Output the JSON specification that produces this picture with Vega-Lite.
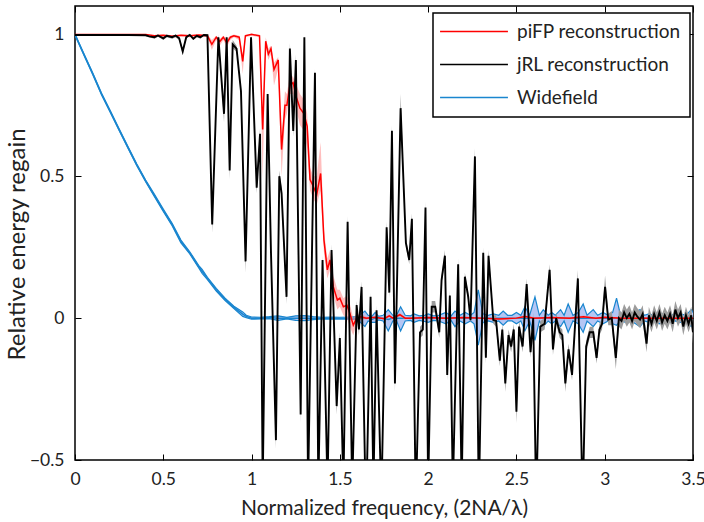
{
"$schema": "https://vega.github.io/schema/vega-lite/v6.json",
"width": 618, "height": 454,
"autosize": {"type": "none"},
"padding": {"left": 75, "top": 6, "right": 11, "bottom": 62},
"background": "white",
"config": {
  "view": {"stroke": "black", "strokeWidth": 1.5},
  "font": "Lato",
  "legend": {"strokeWidth": 1.5, "strokeColor": "black", "fillColor": "white"},
  "axis": {"domain": false, "grid": false, "tickColor": "black", "tickWidth": 1, "tickSize": -6, "labelFontSize": 17.5, "labelColor": "#222", "titleFontSize": 21, "titleFontWeight": "normal", "titleColor": "#222", "labelFlush": false, "labelOverlap": false}
},
"resolve": {"axis": {"x": "independent", "y": "independent"}},
"datasets": {
"wf": [
{"x":0,"y":1,"lo":0.997,"hi":1},{"x":0.05,"y":0.93,"lo":0.927,"hi":0.933},{"x":0.1,"y":0.862,"lo":0.859,"hi":0.865},{"x":0.15,"y":0.79,"lo":0.787,"hi":0.793},{"x":0.2,"y":0.728,"lo":0.725,"hi":0.731},{"x":0.25,"y":0.664,"lo":0.661,"hi":0.667},{"x":0.3,"y":0.602,"lo":0.599,"hi":0.605},{"x":0.35,"y":0.54,"lo":0.537,"hi":0.543},{"x":0.4,"y":0.484,"lo":0.481,"hi":0.487},{"x":0.45,"y":0.432,"lo":0.428,"hi":0.436},{"x":0.5,"y":0.38,"lo":0.376,"hi":0.384},{"x":0.55,"y":0.33,"lo":0.326,"hi":0.334},{"x":0.6,"y":0.27,"lo":0.265,"hi":0.275},{"x":0.65,"y":0.23,"lo":0.226,"hi":0.234},{"x":0.7,"y":0.182,"lo":0.178,"hi":0.186},{"x":0.72,"y":0.165,"lo":0.158,"hi":0.172},{"x":0.75,"y":0.14,"lo":0.136,"hi":0.144},{"x":0.8,"y":0.1,"lo":0.095,"hi":0.105},{"x":0.85,"y":0.066,"lo":0.062,"hi":0.07},{"x":0.9,"y":0.038,"lo":0.034,"hi":0.042},{"x":0.95,"y":0.014,"lo":0.006,"hi":0.022},{"x":0.97,"y":0.006,"lo":0.002,"hi":0.01},{"x":1,"y":0,"lo":-0.004,"hi":0.004},
{"x":1.05,"y":0,"lo":-0.003,"hi":0.003},{"x":1.1,"y":0.002,"lo":-0.002,"hi":0.005},{"x":1.15,"y":0,"lo":-0.008,"hi":0.008},{"x":1.2,"y":0,"lo":-0.003,"hi":0.003},{"x":1.25,"y":0,"lo":-0.008,"hi":0.008},{"x":1.3,"y":0,"lo":-0.009,"hi":0.009},{"x":1.35,"y":0,"lo":-0.005,"hi":0.005},{"x":1.4,"y":0,"lo":-0.003,"hi":0.003},{"x":1.45,"y":0,"lo":-0.004,"hi":0.004},{"x":1.5,"y":0,"lo":-0.003,"hi":0.003},{"x":1.55,"y":0,"lo":-0.004,"hi":0.004},{"x":1.6,"y":0,"lo":-0.005,"hi":0.005},
{"x":1.642,"y":0,"lo":-0.03,"hi":0.025},{"x":1.66,"y":0,"lo":-0.01,"hi":0.01},{"x":1.68,"y":-0.005,"lo":-0.015,"hi":0.005},{"x":1.7,"y":0,"lo":-0.015,"hi":0.02},{"x":1.72,"y":0,"lo":-0.006,"hi":0.006},{"x":1.745,"y":0,"lo":-0.01,"hi":0.01},{"x":1.774,"y":-0.005,"lo":-0.045,"hi":0.03},{"x":1.8,"y":0,"lo":-0.01,"hi":0.01},{"x":1.82,"y":0,"lo":-0.008,"hi":0.008},{"x":1.844,"y":0,"lo":-0.045,"hi":0.04},{"x":1.87,"y":0,"lo":-0.01,"hi":0.01},{"x":1.9,"y":0,"lo":-0.008,"hi":0.008},{"x":1.92,"y":0,"lo":-0.015,"hi":0.015},{"x":1.95,"y":0,"lo":-0.008,"hi":0.008},{"x":1.98,"y":0,"lo":-0.012,"hi":0.01},{"x":2,"y":0,"lo":-0.015,"hi":0.015},{"x":2.03,"y":0,"lo":-0.008,"hi":0.008},{"x":2.06,"y":0,"lo":-0.01,"hi":0.01},{"x":2.1,"y":0,"lo":-0.02,"hi":0.02},{"x":2.13,"y":0,"lo":-0.008,"hi":0.008},{"x":2.152,"y":0,"lo":-0.03,"hi":0.025},{"x":2.18,"y":0,"lo":-0.01,"hi":0.01},{"x":2.21,"y":0,"lo":-0.02,"hi":0.02},{"x":2.24,"y":0,"lo":-0.01,"hi":0.01},{"x":2.26,"y":0,"lo":-0.02,"hi":0.02},{"x":2.284,"y":0,"lo":-0.095,"hi":0.1},{"x":2.31,"y":0,"lo":-0.015,"hi":0.015},{"x":2.34,"y":0,"lo":-0.01,"hi":0.01},{"x":2.37,"y":0,"lo":-0.015,"hi":0.015},{"x":2.4,"y":0,"lo":-0.01,"hi":0.01},{"x":2.425,"y":0,"lo":-0.025,"hi":0.025},{"x":2.45,"y":0,"lo":-0.01,"hi":0.01},{"x":2.475,"y":0,"lo":-0.01,"hi":0.01},{"x":2.5,"y":0,"lo":-0.02,"hi":0.02},{"x":2.525,"y":0,"lo":-0.01,"hi":0.01},{"x":2.548,"y":0,"lo":-0.045,"hi":0.04},{"x":2.575,"y":0,"lo":-0.01,"hi":0.01},{"x":2.605,"y":0,"lo":-0.078,"hi":0.075},{"x":2.63,"y":0,"lo":-0.01,"hi":0.01},{"x":2.652,"y":0,"lo":-0.03,"hi":0.03},{"x":2.68,"y":0,"lo":-0.01,"hi":0.01},{"x":2.7,"y":0,"lo":-0.02,"hi":0.02},{"x":2.72,"y":0,"lo":-0.01,"hi":0.01},{"x":2.75,"y":0,"lo":-0.03,"hi":0.03},{"x":2.77,"y":0,"lo":-0.01,"hi":0.01},{"x":2.793,"y":0,"lo":-0.05,"hi":0.05},{"x":2.82,"y":0,"lo":-0.01,"hi":0.01},{"x":2.85,"y":0,"lo":-0.02,"hi":0.02},{"x":2.878,"y":0,"lo":-0.05,"hi":0.05},{"x":2.9,"y":0,"lo":-0.01,"hi":0.01},{"x":2.935,"y":0,"lo":-0.03,"hi":0.03},{"x":2.96,"y":0,"lo":-0.01,"hi":0.01},{"x":2.99,"y":0,"lo":-0.02,"hi":0.02},{"x":3.02,"y":0,"lo":-0.01,"hi":0.01},{"x":3.045,"y":0,"lo":-0.02,"hi":0.02},{"x":3.067,"y":0,"lo":-0.025,"hi":0.07},{"x":3.09,"y":0,"lo":-0.01,"hi":0.01},{"x":3.12,"y":0,"lo":-0.015,"hi":0.015},{"x":3.15,"y":0,"lo":-0.01,"hi":0.01},{"x":3.175,"y":0,"lo":-0.02,"hi":0.02},{"x":3.2,"y":0,"lo":-0.03,"hi":0.03},{"x":3.225,"y":0,"lo":-0.01,"hi":0.01},{"x":3.25,"y":0,"lo":-0.015,"hi":0.015},{"x":3.28,"y":0,"lo":-0.01,"hi":0.01},{"x":3.31,"y":0,"lo":-0.02,"hi":0.02},{"x":3.34,"y":0,"lo":-0.01,"hi":0.01},{"x":3.37,"y":0,"lo":-0.015,"hi":0.015},{"x":3.4,"y":0,"lo":-0.01,"hi":0.01},{"x":3.43,"y":0,"lo":-0.015,"hi":0.015},{"x":3.46,"y":0,"lo":-0.01,"hi":0.01},{"x":3.49,"y":0,"lo":-0.03,"hi":0.03},{"x":3.5,"y":0,"lo":-0.02,"hi":0.02}
],
"pi": [
{"x":0,"y":1,"lo":1,"hi":1},{"x":0.4,"y":1,"lo":0.998,"hi":1},{"x":0.45,"y":0.995,"lo":0.99,"hi":0.998},{"x":0.5,"y":0.997,"lo":0.993,"hi":1},{"x":0.55,"y":0.993,"lo":0.988,"hi":0.997},{"x":0.6,"y":0.997,"lo":0.993,"hi":1},{"x":0.65,"y":0.995,"lo":0.99,"hi":0.998},{"x":0.7,"y":0.998,"lo":0.995,"hi":1},{"x":0.75,"y":0.995,"lo":0.99,"hi":1},{"x":0.775,"y":0.965,"lo":0.945,"hi":0.98},{"x":0.8,"y":0.99,"lo":0.98,"hi":0.995},{"x":0.82,"y":0.975,"lo":0.96,"hi":0.985},{"x":0.84,"y":0.99,"lo":0.98,"hi":0.995},{"x":0.86,"y":0.97,"lo":0.955,"hi":0.985},{"x":0.88,"y":0.99,"lo":0.98,"hi":0.995},{"x":0.9,"y":0.995,"lo":0.99,"hi":1},{"x":0.93,"y":0.99,"lo":0.98,"hi":0.995},{"x":0.95,"y":0.905,"lo":0.86,"hi":0.93},{"x":0.965,"y":0.995,"lo":0.99,"hi":1},{"x":1,"y":1,"lo":0.995,"hi":1},{"x":1.045,"y":0.995,"lo":0.99,"hi":1},
{"x":1.063,"y":0.665,"lo":0.49,"hi":0.72},{"x":1.08,"y":0.976,"lo":0.96,"hi":0.99},{"x":1.095,"y":0.93,"lo":0.91,"hi":0.95},{"x":1.11,"y":0.95,"lo":0.93,"hi":0.96},{"x":1.127,"y":0.876,"lo":0.82,"hi":0.9},{"x":1.151,"y":0.91,"lo":0.88,"hi":0.92},{"x":1.17,"y":0.594,"lo":0.5,"hi":0.64},{"x":1.189,"y":0.75,"lo":0.7,"hi":0.8},{"x":1.2,"y":0.75,"lo":0.72,"hi":0.79},{"x":1.217,"y":0.82,"lo":0.79,"hi":0.86},{"x":1.235,"y":0.83,"lo":0.79,"hi":0.85},{"x":1.255,"y":0.776,"lo":0.73,"hi":0.82},{"x":1.274,"y":0.74,"lo":0.68,"hi":0.79},{"x":1.297,"y":0.72,"lo":0.66,"hi":0.77},{"x":1.315,"y":0.676,"lo":0.6,"hi":0.72},{"x":1.331,"y":0.488,"lo":0.45,"hi":0.53},{"x":1.35,"y":0.464,"lo":0.42,"hi":0.5},{"x":1.369,"y":0.435,"lo":0.4,"hi":0.5},{"x":1.391,"y":0.51,"lo":0.45,"hi":0.62},{"x":1.41,"y":0.275,"lo":0.23,"hi":0.31},{"x":1.429,"y":0.17,"lo":0.14,"hi":0.21},{"x":1.444,"y":0.205,"lo":0.17,"hi":0.24},{"x":1.463,"y":0.11,"lo":0.08,"hi":0.15},{"x":1.486,"y":0.064,"lo":0.03,"hi":0.1},{"x":1.5,"y":0.07,"lo":0.04,"hi":0.1},{"x":1.52,"y":0.04,"lo":0.01,"hi":0.07},{"x":1.54,"y":0.045,"lo":0,"hi":0.08},{"x":1.557,"y":0.016,"lo":-0.03,"hi":0.05},{"x":1.576,"y":-0.025,"lo":-0.06,"hi":0},{"x":1.595,"y":0,"lo":-0.02,"hi":0.015},{"x":1.62,"y":0.005,"lo":-0.005,"hi":0.015},
{"x":1.65,"y":0,"lo":-0.005,"hi":0.005},{"x":1.7,"y":0.003,"lo":0,"hi":0.006},{"x":1.75,"y":-0.002,"lo":-0.005,"hi":0.002},{"x":1.78,"y":0.008,"lo":0.002,"hi":0.014},{"x":1.8,"y":0,"lo":-0.004,"hi":0.004},{"x":1.84,"y":0.012,"lo":0.006,"hi":0.018},{"x":1.87,"y":0,"lo":-0.004,"hi":0.004},{"x":1.9,"y":0,"lo":-0.003,"hi":0.003},{"x":2,"y":0.002,"lo":-0.002,"hi":0.005},{"x":2.1,"y":0,"lo":-0.003,"hi":0.003},{"x":2.2,"y":0.002,"lo":-0.002,"hi":0.005},{"x":2.3,"y":0,"lo":-0.003,"hi":0.003},{"x":2.4,"y":-0.003,"lo":-0.006,"hi":0},{"x":2.5,"y":0,"lo":-0.003,"hi":0.003},{"x":2.55,"y":0.006,"lo":0.002,"hi":0.01},{"x":2.6,"y":0,"lo":-0.003,"hi":0.003},{"x":2.7,"y":0.002,"lo":-0.002,"hi":0.005},{"x":2.8,"y":0,"lo":-0.003,"hi":0.003},{"x":2.88,"y":0.005,"lo":0.001,"hi":0.009},{"x":2.95,"y":0,"lo":-0.003,"hi":0.003},{"x":3,"y":0.003,"lo":0,"hi":0.006},{"x":3.1,"y":0,"lo":-0.003,"hi":0.003},{"x":3.2,"y":0,"lo":-0.003,"hi":0.003},{"x":3.3,"y":0,"lo":-0.003,"hi":0.003},{"x":3.4,"y":0,"lo":-0.003,"hi":0.003},{"x":3.5,"y":0,"lo":-0.003,"hi":0.003}
],
"jrl": [
{"x":0,"y":0.998,"lo":0.996,"hi":1},{"x":0.1,"y":0.998,"lo":0.996,"hi":1},{"x":0.2,"y":0.998,"lo":0.996,"hi":1},{"x":0.3,"y":0.998,"lo":0.996,"hi":1},{"x":0.4,"y":0.997,"lo":0.994,"hi":1},{"x":0.42,"y":0.993,"lo":0.99,"hi":0.997},{"x":0.45,"y":0.99,"lo":0.985,"hi":0.995},{"x":0.47,"y":0.996,"lo":0.992,"hi":1},{"x":0.5,"y":0.986,"lo":0.98,"hi":0.992},{"x":0.52,"y":0.995,"lo":0.99,"hi":1},{"x":0.55,"y":0.99,"lo":0.985,"hi":0.995},{"x":0.57,"y":0.996,"lo":0.99,"hi":1},{"x":0.59,"y":0.986,"lo":0.98,"hi":0.992},{"x":0.61,"y":0.94,"lo":0.93,"hi":0.95},{"x":0.63,"y":0.99,"lo":0.985,"hi":0.995},{"x":0.65,"y":0.998,"lo":0.995,"hi":1},{"x":0.67,"y":0.985,"lo":0.98,"hi":0.99},{"x":0.69,"y":0.995,"lo":0.99,"hi":1},{"x":0.71,"y":0.99,"lo":0.985,"hi":0.995},{"x":0.73,"y":0.998,"lo":0.995,"hi":1},{"x":0.75,"y":0.997,"lo":0.99,"hi":1},
{"x":0.777,"y":0.33,"lo":0.3,"hi":0.36},{"x":0.812,"y":0.99,"lo":0.98,"hi":1},{"x":0.844,"y":0.72,"lo":0.69,"hi":0.74},{"x":0.859,"y":0.99,"lo":0.98,"hi":1},{"x":0.876,"y":0.52,"lo":0.49,"hi":0.54},{"x":0.893,"y":0.965,"lo":0.95,"hi":0.98},{"x":0.915,"y":0.95,"lo":0.94,"hi":0.96},{"x":0.94,"y":0.8,"lo":0.79,"hi":0.81},{"x":0.966,"y":0.2,"lo":0.16,"hi":0.22},{"x":0.997,"y":0.99,"lo":0.98,"hi":1},{"x":1.029,"y":0.46,"lo":0.44,"hi":0.48},{"x":1.048,"y":0.65,"lo":0.63,"hi":0.67},{"x":1.063,"y":-0.6,"lo":-0.62,"hi":-0.58},{"x":1.091,"y":0.79,"lo":0.77,"hi":0.8},{"x":1.11,"y":0.23,"lo":0.21,"hi":0.25},{"x":1.138,"y":-0.43,"lo":-0.46,"hi":-0.41},{"x":1.157,"y":0.5,"lo":0.48,"hi":0.52},{"x":1.17,"y":0.44,"lo":0.42,"hi":0.46},{"x":1.198,"y":0.075,"lo":0.05,"hi":0.09},{"x":1.217,"y":0.95,"lo":0.94,"hi":0.97},{"x":1.236,"y":0.66,"lo":0.64,"hi":0.68},{"x":1.251,"y":0.91,"lo":0.9,"hi":0.93},{"x":1.278,"y":-0.34,"lo":-0.37,"hi":-0.32},{"x":1.299,"y":0.99,"lo":0.98,"hi":1},{"x":1.32,"y":-0.6,"lo":-0.62,"hi":-0.58},{"x":1.359,"y":0.865,"lo":0.85,"hi":0.88},{"x":1.378,"y":-0.6,"lo":-0.62,"hi":-0.58},{"x":1.402,"y":0.205,"lo":0.19,"hi":0.22},{"x":1.43,"y":-0.6,"lo":-0.62,"hi":-0.58},{"x":1.453,"y":0.24,"lo":0.22,"hi":0.26},{"x":1.482,"y":-0.31,"lo":-0.34,"hi":-0.29},{"x":1.5,"y":-0.07,"lo":-0.09,"hi":-0.05},{"x":1.52,"y":-0.6,"lo":-0.62,"hi":-0.58},{"x":1.544,"y":0.34,"lo":0.32,"hi":0.36},{"x":1.57,"y":-0.6,"lo":-0.62,"hi":-0.58},{"x":1.595,"y":0.046,"lo":0.03,"hi":0.06},{"x":1.608,"y":-0.04,"lo":-0.06,"hi":-0.02},{"x":1.623,"y":0.11,"lo":0.09,"hi":0.13},{"x":1.648,"y":-0.7,"lo":-0.72,"hi":-0.68},{"x":1.674,"y":0.075,"lo":0.06,"hi":0.09},{"x":1.69,"y":-0.6,"lo":-0.62,"hi":-0.58},{"x":1.708,"y":0.028,"lo":0.01,"hi":0.045},{"x":1.735,"y":-0.65,"lo":-0.67,"hi":-0.63},{"x":1.765,"y":0.32,"lo":0.3,"hi":0.34},{"x":1.78,"y":0.09,"lo":0.07,"hi":0.11},{"x":1.795,"y":0.66,"lo":0.64,"hi":0.68},{"x":1.812,"y":-0.23,"lo":-0.26,"hi":-0.21},{"x":1.844,"y":0.74,"lo":0.72,"hi":0.79},{"x":1.874,"y":0.265,"lo":0.25,"hi":0.28},{"x":1.893,"y":0.205,"lo":0.19,"hi":0.22},{"x":1.908,"y":0.35,"lo":0.33,"hi":0.37},{"x":1.93,"y":-0.65,"lo":-0.67,"hi":-0.63},{"x":1.954,"y":-0.05,"lo":-0.07,"hi":-0.03},{"x":1.97,"y":-0.04,"lo":-0.06,"hi":-0.02},{"x":1.985,"y":0.39,"lo":0.37,"hi":0.41},{"x":2,"y":-0.6,"lo":-0.62,"hi":-0.58},{"x":2.02,"y":0.04,"lo":0.02,"hi":0.06},{"x":2.04,"y":0.04,"lo":0.02,"hi":0.06},{"x":2.063,"y":-0.05,"lo":-0.07,"hi":-0.03},{"x":2.076,"y":0.134,"lo":0.12,"hi":0.15},{"x":2.095,"y":0.22,"lo":0.2,"hi":0.24},{"x":2.108,"y":-0.2,"lo":-0.22,"hi":-0.18},{"x":2.123,"y":0.08,"lo":0.06,"hi":0.1},{"x":2.14,"y":-0.6,"lo":-0.62,"hi":-0.58},{"x":2.17,"y":0.19,"lo":0.17,"hi":0.21},{"x":2.19,"y":-0.6,"lo":-0.62,"hi":-0.58},{"x":2.208,"y":0.146,"lo":0.13,"hi":0.16},{"x":2.227,"y":0.075,"lo":0.06,"hi":0.09},{"x":2.24,"y":-0.007,"lo":-0.02,"hi":0.01},{"x":2.265,"y":0.57,"lo":0.55,"hi":0.6},{"x":2.287,"y":-0.65,"lo":-0.67,"hi":-0.63},{"x":2.312,"y":0.23,"lo":0.21,"hi":0.25},{"x":2.327,"y":-0.14,"lo":-0.16,"hi":-0.12},{"x":2.342,"y":0.22,"lo":0.2,"hi":0.24},{"x":2.369,"y":-0.007,"lo":-0.02,"hi":0.01},{"x":2.385,"y":-0.01,"lo":-0.03,"hi":0.01},{"x":2.406,"y":-0.15,"lo":-0.17,"hi":-0.13},{"x":2.42,"y":-0.04,"lo":-0.06,"hi":-0.02},{"x":2.437,"y":-0.23,"lo":-0.26,"hi":-0.21},{"x":2.455,"y":-0.06,"lo":-0.08,"hi":-0.04},{"x":2.47,"y":-0.1,"lo":-0.12,"hi":-0.08},{"x":2.485,"y":-0.04,"lo":-0.06,"hi":-0.02},{"x":2.5,"y":-0.33,"lo":-0.37,"hi":-0.31},{"x":2.515,"y":-0.03,"lo":-0.05,"hi":-0.01},{"x":2.535,"y":-0.1,"lo":-0.12,"hi":-0.08},{"x":2.558,"y":0.12,"lo":0.1,"hi":0.14},{"x":2.58,"y":-0.12,"lo":-0.14,"hi":-0.1},{"x":2.595,"y":0,"lo":-0.02,"hi":0.02},{"x":2.612,"y":-0.65,"lo":-0.67,"hi":-0.63},{"x":2.635,"y":-0.03,"lo":-0.05,"hi":-0.01},{"x":2.66,"y":-0.02,"lo":-0.04,"hi":0},{"x":2.688,"y":0.17,"lo":0.15,"hi":0.19},{"x":2.707,"y":-0.11,"lo":-0.13,"hi":-0.09},{"x":2.725,"y":0,"lo":-0.02,"hi":0.02},{"x":2.745,"y":-0.05,"lo":-0.07,"hi":-0.03},{"x":2.76,"y":-0.06,"lo":-0.08,"hi":-0.04},{"x":2.777,"y":-0.23,"lo":-0.26,"hi":-0.21},{"x":2.795,"y":-0.11,"lo":-0.13,"hi":-0.09},{"x":2.815,"y":-0.2,"lo":-0.22,"hi":-0.18},{"x":2.848,"y":0.14,"lo":0.12,"hi":0.17},{"x":2.875,"y":-0.65,"lo":-0.67,"hi":-0.63},{"x":2.895,"y":-0.1,"lo":-0.12,"hi":-0.08},{"x":2.915,"y":-0.05,"lo":-0.07,"hi":-0.03},{"x":2.935,"y":-0.05,"lo":-0.07,"hi":-0.03},{"x":2.954,"y":-0.14,"lo":-0.16,"hi":-0.12},{"x":2.97,"y":-0.04,"lo":-0.06,"hi":-0.02},{"x":2.985,"y":-0.02,"lo":-0.04,"hi":0},{"x":3.002,"y":0.11,"lo":0.09,"hi":0.15},{"x":3.02,"y":-0.005,"lo":-0.025,"hi":0.015},{"x":3.04,"y":0,"lo":-0.025,"hi":0.025},{"x":3.063,"y":-0.14,"lo":-0.18,"hi":-0.12},{"x":3.08,"y":0,"lo":-0.03,"hi":0.03},{"x":3.095,"y":-0.01,"lo":-0.04,"hi":0.02},{"x":3.11,"y":0.02,"lo":-0.01,"hi":0.05},{"x":3.125,"y":0,"lo":-0.03,"hi":0.03},{"x":3.14,"y":0.015,"lo":-0.015,"hi":0.045},{"x":3.155,"y":-0.01,"lo":-0.04,"hi":0.02},{"x":3.17,"y":0.02,"lo":-0.01,"hi":0.05},{"x":3.185,"y":0.005,"lo":-0.025,"hi":0.035},{"x":3.2,"y":-0.005,"lo":-0.035,"hi":0.025},{"x":3.215,"y":0.015,"lo":-0.015,"hi":0.045},{"x":3.237,"y":-0.09,"lo":-0.12,"hi":-0.06},{"x":3.25,"y":0.01,"lo":-0.02,"hi":0.04},{"x":3.265,"y":-0.02,"lo":-0.05,"hi":0.01},{"x":3.28,"y":0.015,"lo":-0.015,"hi":0.045},{"x":3.295,"y":-0.01,"lo":-0.04,"hi":0.02},{"x":3.31,"y":0.02,"lo":-0.01,"hi":0.05},{"x":3.325,"y":-0.015,"lo":-0.045,"hi":0.015},{"x":3.34,"y":0.01,"lo":-0.02,"hi":0.04},{"x":3.355,"y":-0.01,"lo":-0.04,"hi":0.02},{"x":3.37,"y":0.015,"lo":-0.015,"hi":0.045},{"x":3.385,"y":-0.02,"lo":-0.05,"hi":0.01},{"x":3.4,"y":0.03,"lo":0,"hi":0.06},{"x":3.415,"y":0,"lo":-0.03,"hi":0.03},{"x":3.43,"y":0.02,"lo":-0.01,"hi":0.05},{"x":3.445,"y":-0.03,"lo":-0.06,"hi":0},{"x":3.46,"y":0.01,"lo":-0.02,"hi":0.04},{"x":3.475,"y":-0.02,"lo":-0.05,"hi":0.01},{"x":3.49,"y":0.01,"lo":-0.02,"hi":0.04},{"x":3.5,"y":-0.05,"lo":-0.09,"hi":-0.02}
]
},
"layer": [
{"data": {"name": "wf"}, "mark": {"type": "area", "color": "#b4c6f4", "clip": true},
 "encoding": {
  "x": {"field": "x", "type": "quantitative", "scale": {"domain": [0, 3.5], "nice": false, "zero": false},
        "axis": {"orient": "bottom", "values": [0, 0.5, 1, 1.5, 2, 2.5, 3, 3.5], "format": "~g", "title": "Normalized frequency, (2NA/λ)", "labelPadding": 16, "titlePadding": 10}},
  "y": {"field": "lo", "type": "quantitative", "scale": {"domain": [-0.5, 1.1], "nice": false, "zero": false},
        "axis": {"orient": "left", "values": [-0.5, 0, 0.5, 1], "format": "~g", "title": "Relative energy regain", "titleFontSize": 24, "labelPadding": 17, "titleX": -58, "titleY": 238, "titleAngle": 270, "titleAlign": "center", "titleBaseline": "middle"}},
  "y2": {"field": "hi"}}},
{"data": {"name": "wf"}, "mark": {"type": "line", "color": "#1a86cf", "strokeWidth": 1.2, "clip": true},
 "encoding": {"x": {"field": "x", "type": "quantitative", "axis": null}, "y": {"field": "lo", "type": "quantitative", "axis": null}}},
{"data": {"name": "wf"}, "mark": {"type": "line", "color": "#1a86cf", "strokeWidth": 1.2, "clip": true},
 "encoding": {"x": {"field": "x", "type": "quantitative", "axis": null}, "y": {"field": "hi", "type": "quantitative", "axis": null}}},
{"data": {"name": "wf"}, "mark": {"type": "line", "strokeWidth": 1.5, "clip": true},
 "encoding": {"x": {"field": "x", "type": "quantitative", "axis": null}, "y": {"field": "y", "type": "quantitative", "axis": null},
  "color": {"datum": "Widefield", "type": "nominal",
   "scale": {"domain": ["piFP reconstruction", "jRL reconstruction", "Widefield"], "range": ["#ff0000", "#000000", "#1a86cf"]},
   "legend": {"orient": "none", "legendX": 358, "legendY": 7, "title": null, "direction": "vertical", "symbolType": "M-6,0H6", "symbolSize": 128, "symbolOffset": 22.5, "symbolStrokeWidth": 1.5, "labelFontSize": 19, "labelFont": "Lato", "labelColor": "#222", "padding": 9, "rowPadding": 13, "labelOffset": 33.5, "labelLimit": 300}}}},
{"data": {"name": "pi"}, "mark": {"type": "area", "color": "#ff8888", "opacity": 0.55, "clip": true},
 "encoding": {"x": {"field": "x", "type": "quantitative", "axis": null}, "y": {"field": "lo", "type": "quantitative", "axis": null}, "y2": {"field": "hi"}}},
{"data": {"name": "jrl"}, "mark": {"type": "area", "color": "#9c9c9c", "clip": true},
 "encoding": {"x": {"field": "x", "type": "quantitative", "axis": null}, "y": {"field": "lo", "type": "quantitative", "axis": null}, "y2": {"field": "hi"}}},
{"data": {"name": "pi"}, "mark": {"type": "line", "strokeWidth": 1.5, "clip": true},
 "encoding": {"x": {"field": "x", "type": "quantitative", "axis": null}, "y": {"field": "y", "type": "quantitative", "axis": null}, "color": {"datum": "piFP reconstruction", "type": "nominal"}}},
{"data": {"name": "jrl"}, "mark": {"type": "line", "strokeWidth": 1.9, "clip": true},
 "encoding": {"x": {"field": "x", "type": "quantitative", "axis": null}, "y": {"field": "y", "type": "quantitative", "axis": null}, "color": {"datum": "jRL reconstruction", "type": "nominal"}}},
{"data": {"name": "wf"}, "mark": {"type": "point", "opacity": 0},
 "encoding": {
  "x": {"field": "x", "type": "quantitative", "axis": {"orient": "top", "values": [0, 0.5, 1, 1.5, 2, 2.5, 3, 3.5], "labels": false, "title": null}},
  "y": {"field": "y", "type": "quantitative", "axis": {"orient": "right", "values": [-0.5, 0, 0.5, 1], "labels": false, "title": null}}}}
]
}
